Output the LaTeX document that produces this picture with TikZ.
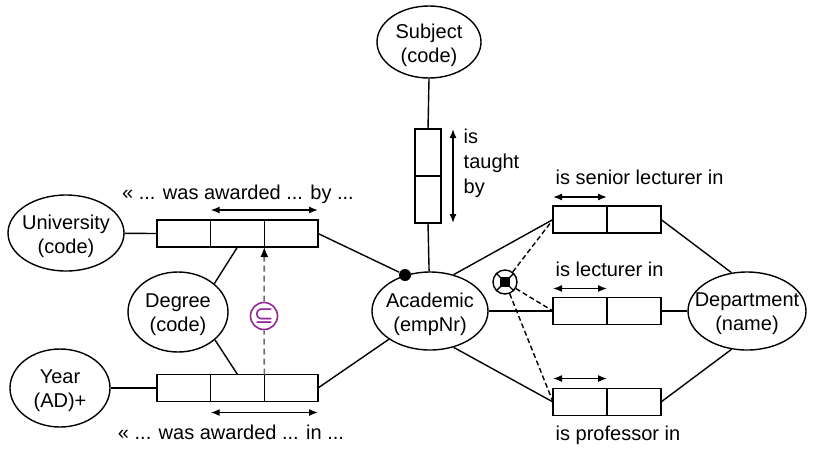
\documentclass[tikz,border=0pt]{standalone}
\usepackage{fontspec}
\setmainfont{Liberation Sans}
\newfontfamily\symbfont{DejaVu Sans}
\usetikzlibrary{shapes.geometric,arrows.meta}
\definecolor{subc}{RGB}{145,40,150}
\definecolor{dashc}{RGB}{110,110,110}
\begin{document}
\begin{tikzpicture}[x=1pt,y=-1pt,line width=1.4pt,
  every node/.style={font=\fontsize{20}{24}\selectfont},
  ent/.style={draw,ellipse,inner sep=0pt},
  etext/.style={align=center,inner sep=0pt,yshift=-3pt},
  cellh/.style={draw,rectangle,minimum width=53.67pt,minimum height=27pt,inner sep=0pt,outer sep=0pt},
  cellr/.style={draw,rectangle,minimum width=54pt,minimum height=27pt,inner sep=0pt,outer sep=0pt},
  cellv/.style={draw,rectangle,minimum width=26pt,minimum height=47pt,inner sep=0pt,outer sep=0pt},
  lbl/.style={inner sep=0pt},
  uc/.style={{Latex[length=9pt,width=7pt]}-{Latex[length=9pt,width=7pt]}}]
\useasboundingbox (0,0) rectangle (834,448);

% entity types
\node[ent,minimum width=104pt,minimum height=72pt] (subj) at (429,42) {};
\node[etext] (subjt) at (subj) {Subject\\(code)};
\node[ent,minimum width=116pt,minimum height=78pt] (acad) at (430,311) {};
\node[etext] (acadt) at (acad) {Academic\\(empNr)};
\node[ent,minimum width=116pt,minimum height=76pt] (univ) at (66,233) {};
\node[etext] (univt) at (univ) {University\\(code)};
\node[ent,minimum width=100pt,minimum height=78pt] (year) at (60,388) {};
\node[etext] (yeart) at (year) {Year\\(AD)+};
\node[ent,minimum width=100pt,minimum height=80pt] (deg) at (178,312) {};
\node[etext] (degt) at (deg) {Degree\\(code)};
\node[ent,minimum width=118pt,minimum height=78pt] (dept) at (747,311) {};
\node[etext] (deptt) at (dept) {Department\\(name)};

% role boxes
\node[cellv] (v1) at (428,152.5) {};
\node[cellv] (v2) at (428,199.5) {};
\node[cellh] (t1) at (183.83,233.5) {};
\node[cellh] (t2) at (237.5,233.5) {};
\node[cellh] (t3) at (291.17,233.5) {};
\node[cellh] (b1) at (183.83,388) {};
\node[cellh] (b2) at (237.5,388) {};
\node[cellh] (b3) at (291.17,388) {};
\node[cellr] (s1) at (580,219.5) {};
\node[cellr] (s2) at (634,219.5) {};
\node[cellr] (l1) at (580,311) {};
\node[cellr] (l2) at (634,311) {};
\node[cellr] (p1) at (580,402) {};
\node[cellr] (p2) at (634,402) {};

% mandatory dot
\node[circle,fill,inner sep=0pt,minimum size=12pt] (dot) at (405,275) {};

% labels
\node[lbl,anchor=base] (lt) at (238,199) {<< ... was awarded ... by ...};
\node[lbl,anchor=base] (lb) at (231,439) {<< ... was awarded ... in ...};
\node[lbl,anchor=base west] (ls) at (555,184) {is senior lecturer in};
\node[lbl,anchor=base west] (ll) at (555,276) {is lecturer in};
\node[lbl,anchor=base west] (lp) at (555,440) {is professor in};
\node[lbl,anchor=north west,align=left,font=\fontsize{20}{25}\selectfont] (lv) at (463,128.5) {is\\taught\\by};

% connectors
\draw (subj.south) -- (v1.north);
\draw (v2.south) -- (acad);
\draw (univ) -- (t1.west);
\draw (year) -- (b1.west);
\draw (t2.south) -- (deg.38);
\draw (b2.north) -- (deg.-37);
\draw (t3.east) -- (dot);
\draw (b3.east) -- (acad);
\draw (acad.57) -- (s1.west);
\draw (acad.east) -- (l1.west);
\draw (acad.-57) -- (p1.west);
\draw (s2.east) -- (dept.112);
\draw (l2.east) -- (dept.west);
\draw (p2.east) -- (dept.-112);

% uniqueness constraints
\draw[uc] ([yshift=10pt]t2.north west) -- ([yshift=10pt]t3.north east);
\draw[uc] ([yshift=-11pt]b2.south west) -- ([yshift=-11pt]b3.south east);
\draw[uc] ([yshift=9pt]s1.north west) -- ([yshift=9pt]s1.north east);
\draw[uc] ([yshift=9pt]l1.north west) -- ([yshift=9pt]l1.north east);
\draw[uc] ([yshift=10pt]p1.north west) -- ([yshift=10pt]p1.north east);
\draw[uc] ([xshift=12pt]v1.north east) -- ([xshift=12pt]v2.south east);

% subset constraint
\node[circle,draw=subc,line width=1.6pt,minimum size=27pt,inner sep=0pt,text=subc] (subs) at (264,316) {};
\node[inner sep=0pt,text=subc,font=\symbfont\fontsize{24}{24}\selectfont] (subsym) at (264,316) {⊆};
\draw[dashc,line width=1.6pt,dash pattern=on 6pt off 4pt] (b2.north east) -- (subs);
\draw[dashc,line width=1.6pt,dash pattern=on 6pt off 4pt,-{Latex[black,length=10pt,width=8pt]}] (subs) -- (t2.south east);

% exclusion constraint
\node[circle,draw,minimum size=24pt,inner sep=0pt] (excl) at (505,282) {};
\draw (excl.45) -- (excl.225);
\draw (excl.135) -- (excl.-45);
\node[fill,minimum size=10pt,inner sep=0pt] (exsq) at (excl) {};
\draw[dash pattern=on 5pt off 3pt] (excl) -- (s1.west);
\draw[dash pattern=on 5pt off 3pt] (excl) -- (l1.west);
\draw[dash pattern=on 5pt off 3pt] (excl) -- (p1.west);
\end{tikzpicture}
\end{document}
